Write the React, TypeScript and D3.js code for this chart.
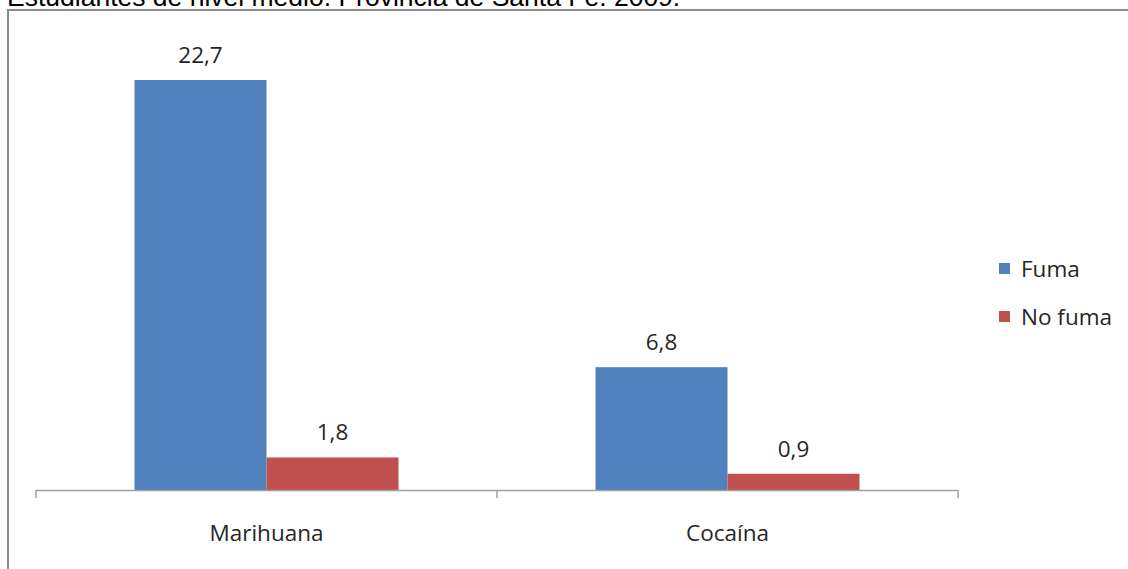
import React from "react";
import * as d3 from "d3";

const categories = ["Marihuana", "Cocaína"];
const seriesNames = ["Fuma", "No fuma"];
const fumaValues = [22.7, 6.8];
const noFumaValues = [1.8, 0.9];
const seriesColors = ["#4F81BD", "#C0504D"];
const titleText = "Estudiantes de nivel medio. Provincia de Santa Fe. 2009.";

export default function App() {
  const W = 1128, H = 569;
  const x0 = 36, x1 = 958, base = 490;
  const x = d3.scaleBand<string>().domain(categories).range([x0, x1]).paddingInner(0).paddingOuter(0);
  const y = d3.scaleLinear().domain([0, 25]).range([base, base - 25 * (410 / 22.7)]);
  const groupW = 264;
  const xs = d3.scaleBand<string>().domain(seriesNames).range([0, groupW]);
  const series = [fumaValues, noFumaValues];
  const font = "'Open Sans', 'Noto Sans', sans-serif";
  const fmt = (v: number) => v.toFixed(1).replace(".", ",");

  return (
    <div style={{ position: "fixed", left: 0, top: 0 }}>
      <svg width={W} height={H} style={{ display: "block", background: "#fff" }}>
        <text x={7} y={6} fontFamily="Arial, 'Liberation Sans', sans-serif" fontSize={26.5} fill="#000">{titleText}</text>
        <rect x={8} y={10} width={1200} height={700} fill="none" stroke="#8c8c8c" strokeWidth={2} />
        {categories.map((c, ci) => {
          const gx = (x(c) as number) + (x.bandwidth() - groupW) / 2;
          return series.map((vals, si) => {
            const v = vals[ci];
            const bx = gx + (xs(seriesNames[si]) as number);
            return (
              <g key={c + si}>
                <rect x={bx} y={y(v)} width={xs.bandwidth()} height={base - y(v)} fill={seriesColors[si]} />
                <text x={bx + xs.bandwidth() / 2} y={y(v) - 17} textAnchor="middle" fontFamily={font} fontSize={22.5} fill="#262626">{fmt(v)}</text>
              </g>
            );
          });
        })}
        <line x1={x0} x2={x1} y1={base + 0.5} y2={base + 0.5} stroke="#a0a0a0" strokeWidth={1.5} />
        {[x0, ...categories.map((c) => (x(c) as number) + x.bandwidth())].map((t, i) => (
          <line key={i} x1={t} x2={t} y1={base} y2={base + 8} stroke="#a0a0a0" strokeWidth={1.5} />
        ))}
        {categories.map((c) => (
          <text key={c} x={(x(c) as number) + x.bandwidth() / 2} y={541} textAnchor="middle" fontFamily={font} fontSize={22.5} fill="#262626">{c}</text>
        ))}
        {seriesNames.map((s, i) => (
          <g key={s}>
            <rect x={999} y={263 + i * 48} width={11} height={11} fill={seriesColors[i]} />
            <text x={1021} y={277 + i * 48} fontFamily={font} fontSize={22.5} fill="#262626">{s}</text>
          </g>
        ))}
      </svg>
    </div>
  );
}
